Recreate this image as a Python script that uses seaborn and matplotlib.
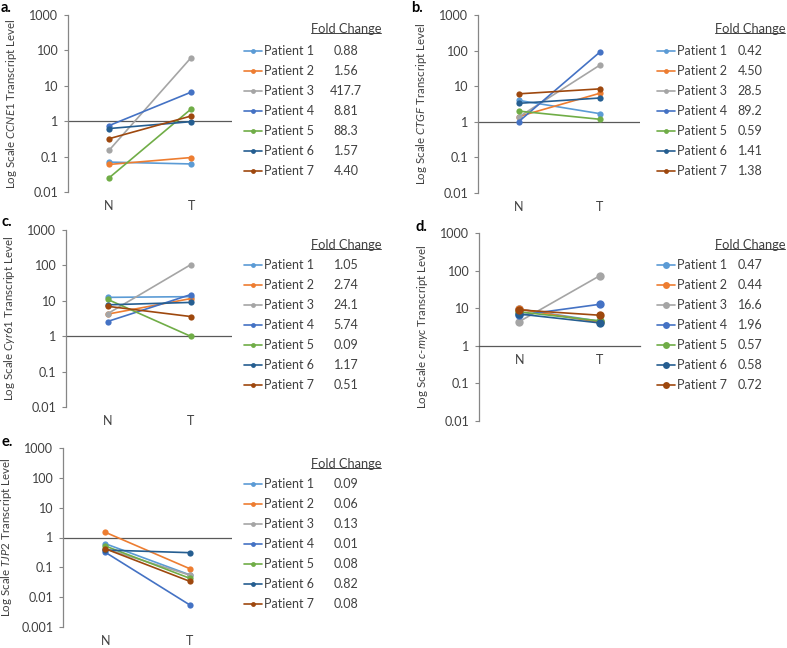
import numpy as np
import pandas as pd
import matplotlib
matplotlib.use("Agg")
import matplotlib.pyplot as plt
import seaborn as sns
from matplotlib.lines import Line2D
from matplotlib.ticker import FixedLocator, NullLocator, FuncFormatter

# data
patients = ["Patient 1", "Patient 2", "Patient 3", "Patient 4", "Patient 5", "Patient 6", "Patient 7"]
tissues = ["N", "T"]
colors = ["#5B9BD5", "#ED7D31", "#A5A5A5", "#4472C4", "#70AD47", "#255E91", "#9E480E"]

ccne1_n = [0.07, 0.06, 0.15, 0.75, 0.025, 0.62, 0.32]
ccne1_t = [0.062, 0.094, 62, 6.6, 2.2, 0.97, 1.4]
ccne1_fc = ["0.88", "1.56", "417.7", "8.81", "88.3", "1.57", "4.40"]

ctgf_n = [4.0, 1.4, 1.35, 1.0, 2.0, 3.3, 6.1]
ctgf_t = [1.7, 6.3, 38.5, 89, 1.18, 4.65, 8.4]
ctgf_fc = ["0.42", "4.50", "28.5", "89.2", "0.59", "1.41", "1.38"]

cyr61_n = [12.5, 4.2, 4.3, 2.6, 11.0, 7.7, 7.0]
cyr61_t = [13.1, 11.5, 104, 14.9, 1.0, 9.0, 3.6]
cyr61_fc = ["1.05", "2.74", "24.1", "5.74", "0.09", "1.17", "0.51"]

cmyc_n = [9.5, 9.5, 4.4, 6.5, 8.0, 7.0, 9.0]
cmyc_t = [4.5, 4.2, 73, 12.7, 4.6, 4.06, 6.5]
cmyc_fc = ["0.47", "0.44", "16.6", "1.96", "0.57", "0.58", "0.72"]

tjp2_n = [0.62, 1.5, 0.42, 0.32, 0.52, 0.38, 0.42]
tjp2_t = [0.056, 0.09, 0.055, 0.0055, 0.043, 0.31, 0.034]
tjp2_fc = ["0.09", "0.06", "0.13", "0.01", "0.08", "0.82", "0.08"]

W, H = 787, 648
sns.set_style("white")
plt.rcParams["font.family"] = ["Lato", "DejaVu Sans"]
plt.rcParams["mathtext.fontset"] = "custom"
plt.rcParams["mathtext.rm"] = "Lato"
plt.rcParams["mathtext.it"] = "Lato:italic"

txt = "#404040"
fs = 9

panels = [
    dict(letter="a.", n=ccne1_n, t=ccne1_t, fc=ccne1_fc, lo=0.01,
         ylabel=r"Log Scale $\mathit{CCNE1}$ Transcript Level",
         box=(68, 15, 232, 192), leg=(244, 45), vx=346, hy=29, lp=(1, 8), ms=4.5, mid=False),
    dict(letter="b.", n=ctgf_n, t=ctgf_t, fc=ctgf_fc, lo=0.01,
         ylabel=r"Log Scale $\mathit{CTGF}$ Transcript Level",
         box=(478, 15, 640, 193), leg=(657, 45), vx=750, hy=29, lp=(411, 8), ms=4.5, mid=False),
    dict(letter="c.", n=cyr61_n, t=cyr61_t, fc=cyr61_fc, lo=0.01,
         ylabel=r"Log Scale $\mathit{Cyr61}$ Transcript Level",
         box=(66, 230, 232, 407), leg=(244, 259), vx=346, hy=245, lp=(2, 222), ms=4.5, mid=False),
    dict(letter="d.", n=cmyc_n, t=cmyc_t, fc=cmyc_fc, lo=0.01,
         ylabel=r"Log Scale $\mathit{c}$-$\mathit{myc}$ Transcript Level",
         box=(479, 233, 640, 421), leg=(657, 259), vx=750, hy=245, lp=(415, 227), ms=6, mid=True),
    dict(letter="e.", n=tjp2_n, t=tjp2_t, fc=tjp2_fc, lo=0.001,
         ylabel=r"Log Scale $\mathit{TJP2}$ Transcript Level",
         box=(63, 448, 232, 627), leg=(244, 478), vx=346, hy=464, lp=(2, 442), ms=4.5, mid=False),
]

fig = plt.figure(figsize=(W / 100, H / 100), dpi=100)

legends = []
for p in panels:
    x0, y0, x1, y1 = p["box"]
    ax = fig.add_axes([x0 / W, 1 - y1 / H, (x1 - x0) / W, (y1 - y0) / H])
    ax.set_yscale("log")

    df = pd.DataFrame({
        "patient": patients * 2,
        "tissue": [tissues[0]] * 7 + [tissues[1]] * 7,
        "level": p["n"] + p["t"],
    })
    sns.lineplot(data=df, x="tissue", y="level", hue="patient", hue_order=patients,
                 palette=colors, marker="o", markersize=p["ms"], markeredgewidth=0,
                 linewidth=1.2, errorbar=None, legend=False, ax=ax)

    ax.set_xlim(-0.5, 1.5)
    ax.set_ylim(p["lo"], 1000)
    ticks = [10.0 ** k for k in range(int(round(np.log10(p["lo"]))), 4)]
    ax.yaxis.set_major_locator(FixedLocator(ticks))
    ax.yaxis.set_minor_locator(NullLocator())
    ax.yaxis.set_major_formatter(FuncFormatter(lambda v, pos: f"{v:g}"))
    ax.tick_params(axis="y", left=True, length=3, width=0.8, color="#868686",
                   pad=4, labelsize=fs, labelcolor=txt)
    ax.tick_params(axis="x", length=0, pad=6, labelsize=fs, labelcolor=txt)
    ax.set_xlabel("")
    ax.set_ylabel(p["ylabel"], fontsize=8.3, color=txt)
    ax.yaxis.set_label_coords(-49 / (x1 - x0), 0.5)

    for s in ["top", "right"]:
        ax.spines[s].set_visible(False)
    ax.spines["left"].set_color("#868686")
    ax.spines["left"].set_linewidth(0.9)
    if p["mid"]:
        ax.spines["bottom"].set_position(("data", 1))
        ax.spines["bottom"].set_color("#595959")
        ax.spines["bottom"].set_linewidth(0.9)
    else:
        ax.spines["bottom"].set_visible(False)
        ax.axhline(1, color="#595959", lw=0.9, zorder=1)

    handles = [Line2D([], [], color=c, marker="o", markersize=p["ms"] - 1,
                      markeredgewidth=0, lw=1.2) for c in colors]
    lx, ly = p["leg"]
    leg = ax.legend(handles, patients, loc="upper left",
                    bbox_to_anchor=(lx / W, 1 - ly / H), bbox_transform=fig.transFigure,
                    frameon=False, borderpad=0, borderaxespad=0, handlelength=1.45,
                    handletextpad=0.18, labelspacing=0.64, fontsize=fs)
    for t in leg.get_texts():
        t.set_color(txt)
    legends.append(leg)

    fig.text(p["lp"][0] / W, 1 - p["lp"][1] / H, p["letter"], fontsize=10.5,
             fontweight="bold", color="black", va="center", ha="left")

fig.canvas.draw()
renderer = fig.canvas.get_renderer()
for p, leg in zip(panels, legends):
    for t, v in zip(leg.get_texts(), p["fc"]):
        bb = t.get_window_extent(renderer)
        fig.text(p["vx"], (bb.y0 + bb.y1) / 2, v, transform=None, ha="center",
                 va="center", fontsize=fs, color=txt)
    hdr = fig.text(p["vx"] / W, 1 - p["hy"] / H, "Fold Change", ha="center",
                   va="center", fontsize=9.3, color=txt)
    hb = hdr.get_window_extent(renderer)
    fig.add_artist(Line2D([hb.x0 + 0.5, hb.x1 - 0.5], [hb.y0 + 2.5, hb.y0 + 2.5],
                          transform=None, color=txt, lw=0.7))

fig.savefig("out.png", dpi=100)
